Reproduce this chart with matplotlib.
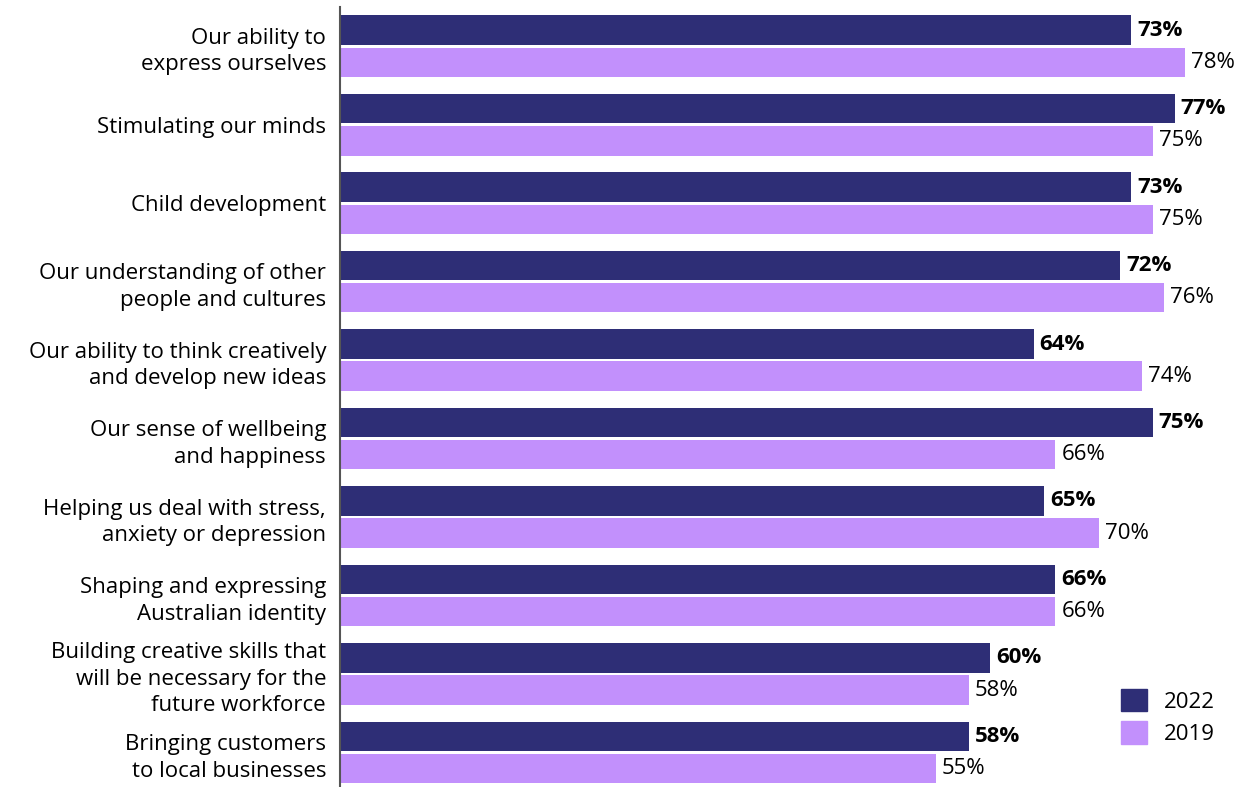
import matplotlib.pyplot as plt
from matplotlib.patches import Patch
import numpy as np

plt.rcParams['font.family'] = ['Open Sans', 'DejaVu Sans']

categories = [
    'Our ability to\nexpress ourselves',
    'Stimulating our minds',
    'Child development',
    'Our understanding of other\npeople and cultures',
    'Our ability to think creatively\nand develop new ideas',
    'Our sense of wellbeing\nand happiness',
    'Helping us deal with stress,\nanxiety or depression',
    'Shaping and expressing\nAustralian identity',
    'Building creative skills that\nwill be necessary for the\nfuture workforce',
    'Bringing customers\nto local businesses',
]
values_2022 = [73, 77, 73, 72, 64, 75, 65, 66, 60, 58]
values_2019 = [78, 75, 75, 76, 74, 66, 70, 66, 58, 55]

COLOR_2022 = '#2E2E76'
COLOR_2019 = '#C290FC'

fig = plt.figure(figsize=(12.45, 7.87), dpi=100)
ax = fig.add_axes([340 / 1245, 0, 905 / 1245, 780 / 787])

y = np.arange(len(categories))
h = 0.375
off = 0.205

ax.barh(y - off, values_2022, height=h, color=COLOR_2022)
ax.barh(y + off, values_2019, height=h, color=COLOR_2019)

# value labels: bold for 2022, regular for 2019
for yi, v in zip(y, values_2022):
    ax.text(v + 0.55, yi - off, f'{v}%', va='center', ha='left',
            fontsize=16, fontweight='bold', color='black')
for yi, v in zip(y, values_2019):
    ax.text(v + 0.55, yi + off, f'{v}%', va='center', ha='left',
            fontsize=16, color='black')

ax.set_xlim(0, 83.5)
ax.set_ylim(9.44, -0.5)
ax.set_yticks(y)
ax.set_yticklabels(categories, fontsize=16, linespacing=1.35)
ax.tick_params(axis='y', length=0, pad=10)
ax.set_xticks([])

for side in ['top', 'right', 'bottom']:
    ax.spines[side].set_visible(False)
ax.spines['left'].set_color('#555555')
ax.spines['left'].set_linewidth(1.5)

handles = [Patch(color=COLOR_2022, label='2022'), Patch(color=COLOR_2019, label='2019')]
fig.legend(handles=handles, loc='lower left', bbox_to_anchor=(1101 / 1245, 22 / 787),
           frameon=False, fontsize=16, handlelength=1.15, handleheight=1.15,
           handletextpad=0.8, labelspacing=0.4)

fig.savefig('out.png', dpi=100, facecolor='white')
